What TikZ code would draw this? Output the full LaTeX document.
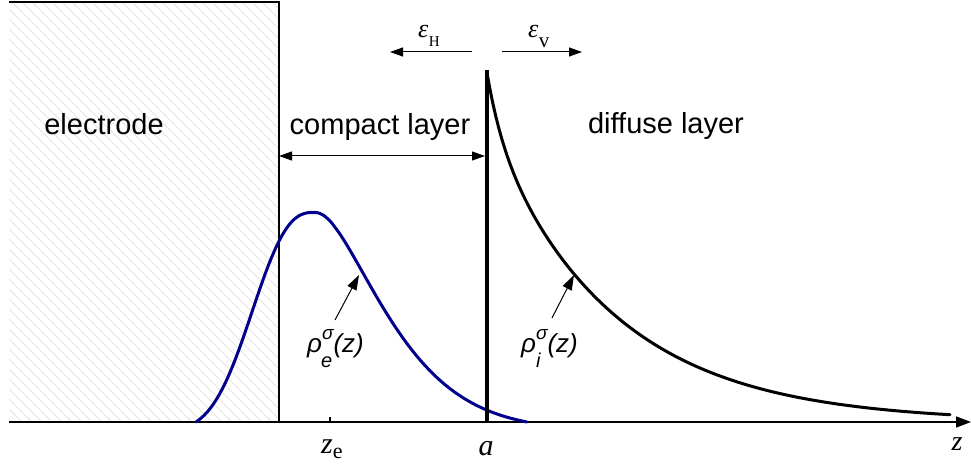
\documentclass[tikz,border=0pt]{standalone}
\usepackage{fontspec}
\setmainfont{Liberation Sans}
\newfontfamily\serif{Liberation Serif}
\usetikzlibrary{arrows.meta}
\definecolor{curveblue}{RGB}{0,0,140}
\definecolor{hatchgray}{RGB}{228,228,228}
\begin{document}
\begin{tikzpicture}[x=1pt,y=-1pt,
  lbl/.style={font=\fontsize{29}{34}\selectfont, inner sep=0pt},
  tip/.style={-{Triangle[length=13pt,width=9pt]}},
  dbltip/.style={{Triangle[length=13pt,width=9pt]}-{Triangle[length=13pt,width=9pt]}},
  thinarr/.style={line width=1pt},
  curve/.style={line width=3pt, line join=round, line cap=round},
]
\useasboundingbox (0,0) rectangle (971,465);
% hatching of the electrode
\begin{scope}
\clip (9,2) rectangle (279,422);
\foreach \i in {-46,...,28} \draw[color=hatchgray, line width=1pt] (\i*10,0) -- ++(460,460);
\end{scope}
\coordinate (eTL) at (9,2);
\coordinate (eTR) at (279,2);
\coordinate (eBR) at (279,422);
\draw[line width=1.5pt] (eTL) -- (eTR) -- (eBR);
% axis
\coordinate (ax0) at (9,422);
\coordinate (ax1) at (971,422);
\draw[line width=1.5pt, -{Triangle[length=15pt,width=11pt]}] (ax0) -- (ax1);
% tick at z_e
\coordinate (zeT) at (330,417);
\coordinate (zeB) at (330,423);
\draw[line width=2pt] (zeT) -- (zeB);
% blue curve (electron density)
\draw[curve, color=curveblue]
  plot[domain=196:313, samples=60] (\x, {422 - 209.5*(exp(-pow((313-\x)/74.7,2.5)) - 0.0464)/0.9536})
  -- plot[domain=313:527, samples=100] (\x, {422 - 209.5*(exp(-pow((veclen(\x-313,12)-12)/88,1.4)) - 0.0404)/0.9596});
% wall
\coordinate (wTop) at (487,70);
\coordinate (wBot) at (487,422);
\draw[line width=4pt] (wBot) -- (wTop);
% diffuse curve (ion density)
\draw[curve]
  plot[domain=0:463, samples=160] ({487+\x}, {422 - 349*(0.15*exp(-\x/15) + 0.85*exp(-\x/125))});
% compact layer arrow
\coordinate (cL) at (279,156);
\coordinate (cR) at (485,156);
\draw[thinarr, dbltip] (cL) -- (cR);
% epsilon arrows
\coordinate (eHa) at (472,52);
\coordinate (eHb) at (390,52);
\draw[thinarr, tip] (eHa) -- (eHb);
\coordinate (eVa) at (502,52);
\coordinate (eVb) at (582,52);
\draw[thinarr, tip] (eVa) -- (eVb);
% texts
\node[lbl, anchor=base] (electrode) at (104,135) {electrode};
\node[lbl, anchor=base] (compact) at (380,135) {compact layer};
\node[lbl, anchor=base] (diffuse) at (666,134) {diffuse layer};
\node[anchor=base west, inner sep=0pt] (epsH) at (418,38)
  {\serif\fontsize{26}{30}\selectfont\itshape ε\kern0.5pt\raisebox{-9pt}{\upshape\fontsize{15}{18}\selectfont H}};
\node[anchor=base west, inner sep=0pt] (epsV) at (528,38)
  {\serif\fontsize{26}{30}\selectfont\itshape ε\kern0.5pt\raisebox{-10pt}{\upshape\fontsize{21}{24}\selectfont v}};
% rho labels and arrows
\node[anchor=base west, inner sep=0pt] (rhoE) at (307,352)
  {\fontsize{26}{30}\selectfont\itshape ρ\rlap{\kern-1pt\raisebox{-15pt}{\fontsize{20}{22}\selectfont e}}\raisebox{13pt}{\fontsize{19}{22}\selectfont σ}(z)};
\coordinate (rhoEtail) at (335,320);
\coordinate (rhoEtip) at (359,275);
\draw[thinarr, -{Triangle[length=15pt,width=10pt]}] (rhoEtail) -- (rhoEtip);
\node[anchor=base west, inner sep=0pt] (rhoI) at (521,352)
  {\fontsize{26}{30}\selectfont\itshape ρ\rlap{\kern0pt\raisebox{-15pt}{\fontsize{20}{22}\selectfont i}}\raisebox{13pt}{\fontsize{19}{22}\selectfont σ}(z)};
\coordinate (rhoItail) at (552,318);
\coordinate (rhoItip) at (574,275);
\draw[thinarr, -{Triangle[length=15pt,width=10pt]}] (rhoItail) -- (rhoItip);
% axis labels
\node[anchor=base west, inner sep=0pt] (zeLbl) at (321,453)
  {\serif\fontsize{30}{34}\selectfont\itshape z\raisebox{-5pt}{\upshape\fontsize{22}{24}\selectfont e}};
\node[anchor=base, inner sep=0pt] (aLbl) at (486,455)
  {\serif\fontsize{30}{34}\selectfont\itshape a};
\node[anchor=base, inner sep=0pt] (zLbl) at (957,450)
  {\serif\fontsize{28}{32}\selectfont\itshape z};
\end{tikzpicture}
\end{document}
